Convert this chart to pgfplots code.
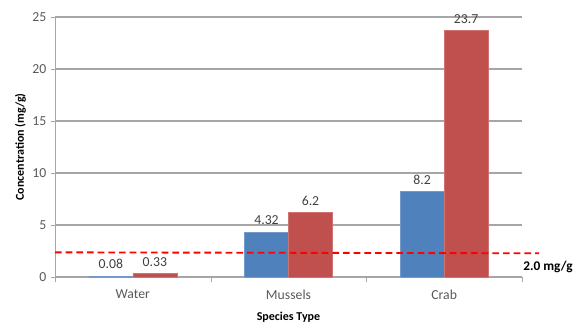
\documentclass[border=0pt]{standalone}
\usepackage{pgfplots}
\pgfplotsset{compat=1.18}
\usepackage{fontspec}
\setmainfont{Carlito}
\definecolor{cblue}{HTML}{4F81BD}
\definecolor{cred}{HTML}{C0504D}
\definecolor{gridc}{HTML}{A6A6A6}
\definecolor{tickc}{HTML}{595959}
\definecolor{labc}{HTML}{404040}
\begin{document}
\begin{tikzpicture}
\begin{axis}[
  name=ax,
  scale only axis,
  width=350.25pt, height=195pt,
  xmin=-0.5, xmax=2.5,
  ymin=0, ymax=25,
  ytick={0,5,10,15,20,25},
  xtick={0,1,2},
  xticklabels={Water,Mussels,Crab},
  minor xtick={-0.5,0.5,1.5,2.5},
  major x tick style={draw=none},
  minor tick length=4pt,
  major tick length=3pt,
  tick align=outside,
  tick style={gridc},
  axis x line*=bottom,
  axis y line*=left,
  axis line style={gridc, -},
  ymajorgrids,
  grid style={gridc, line width=0.8pt},
  ticklabel style={font=\fontsize{10.3}{12}\selectfont, text=tickc},
  xticklabel style={yshift=-3pt},
  /pgf/number format/assume math mode=true,
  xlabel={\bfseries Species Type},
  ylabel={\bfseries Concentration (mg/g)},
  label style={font=\fontsize{9}{11}\selectfont, text=black},
  xlabel style={yshift=-3pt},
  ylabel style={yshift=-2pt},
  ybar=0pt,
  bar width=33pt,
  clip=false,
  nodes near coords,
  every node near coord/.append style={font=\fontsize{10.3}{12}\selectfont, text=labc, yshift=2pt},
  point meta=explicit symbolic,
]
\addplot[fill=cblue, draw=cblue!80!white] coordinates {(0,0.08)[0.08] (1,4.32)[4.32] (2,8.2)[8.2]};
\addplot[fill=cred, draw=cred!80!white] coordinates {(0,0.33)[0.33] (1,6.2)[6.2] (2,23.7)[23.7]};
\end{axis}
\begin{axis}[
  scale only axis,
  width=350.25pt, height=195pt,
  xmin=-0.5, xmax=2.5,
  ymin=0, ymax=25,
  hide axis, clip=false,
]
\addplot[red, line width=1.4pt, dash pattern=on 5pt off 3pt] coordinates {(-0.5,2.37) (2.61,2.28)};
\node[font=\fontsize{10}{12}\selectfont\bfseries, anchor=center] at (axis cs:2.667,0.96) {2.0 mg/g};
\end{axis}
\pgfresetboundingbox
\path ([xshift=-41.25pt,yshift=-33.75pt]ax.south west) rectangle ([xshift=41.25pt,yshift=12.75pt]ax.north east);
\end{tikzpicture}
\end{document}
